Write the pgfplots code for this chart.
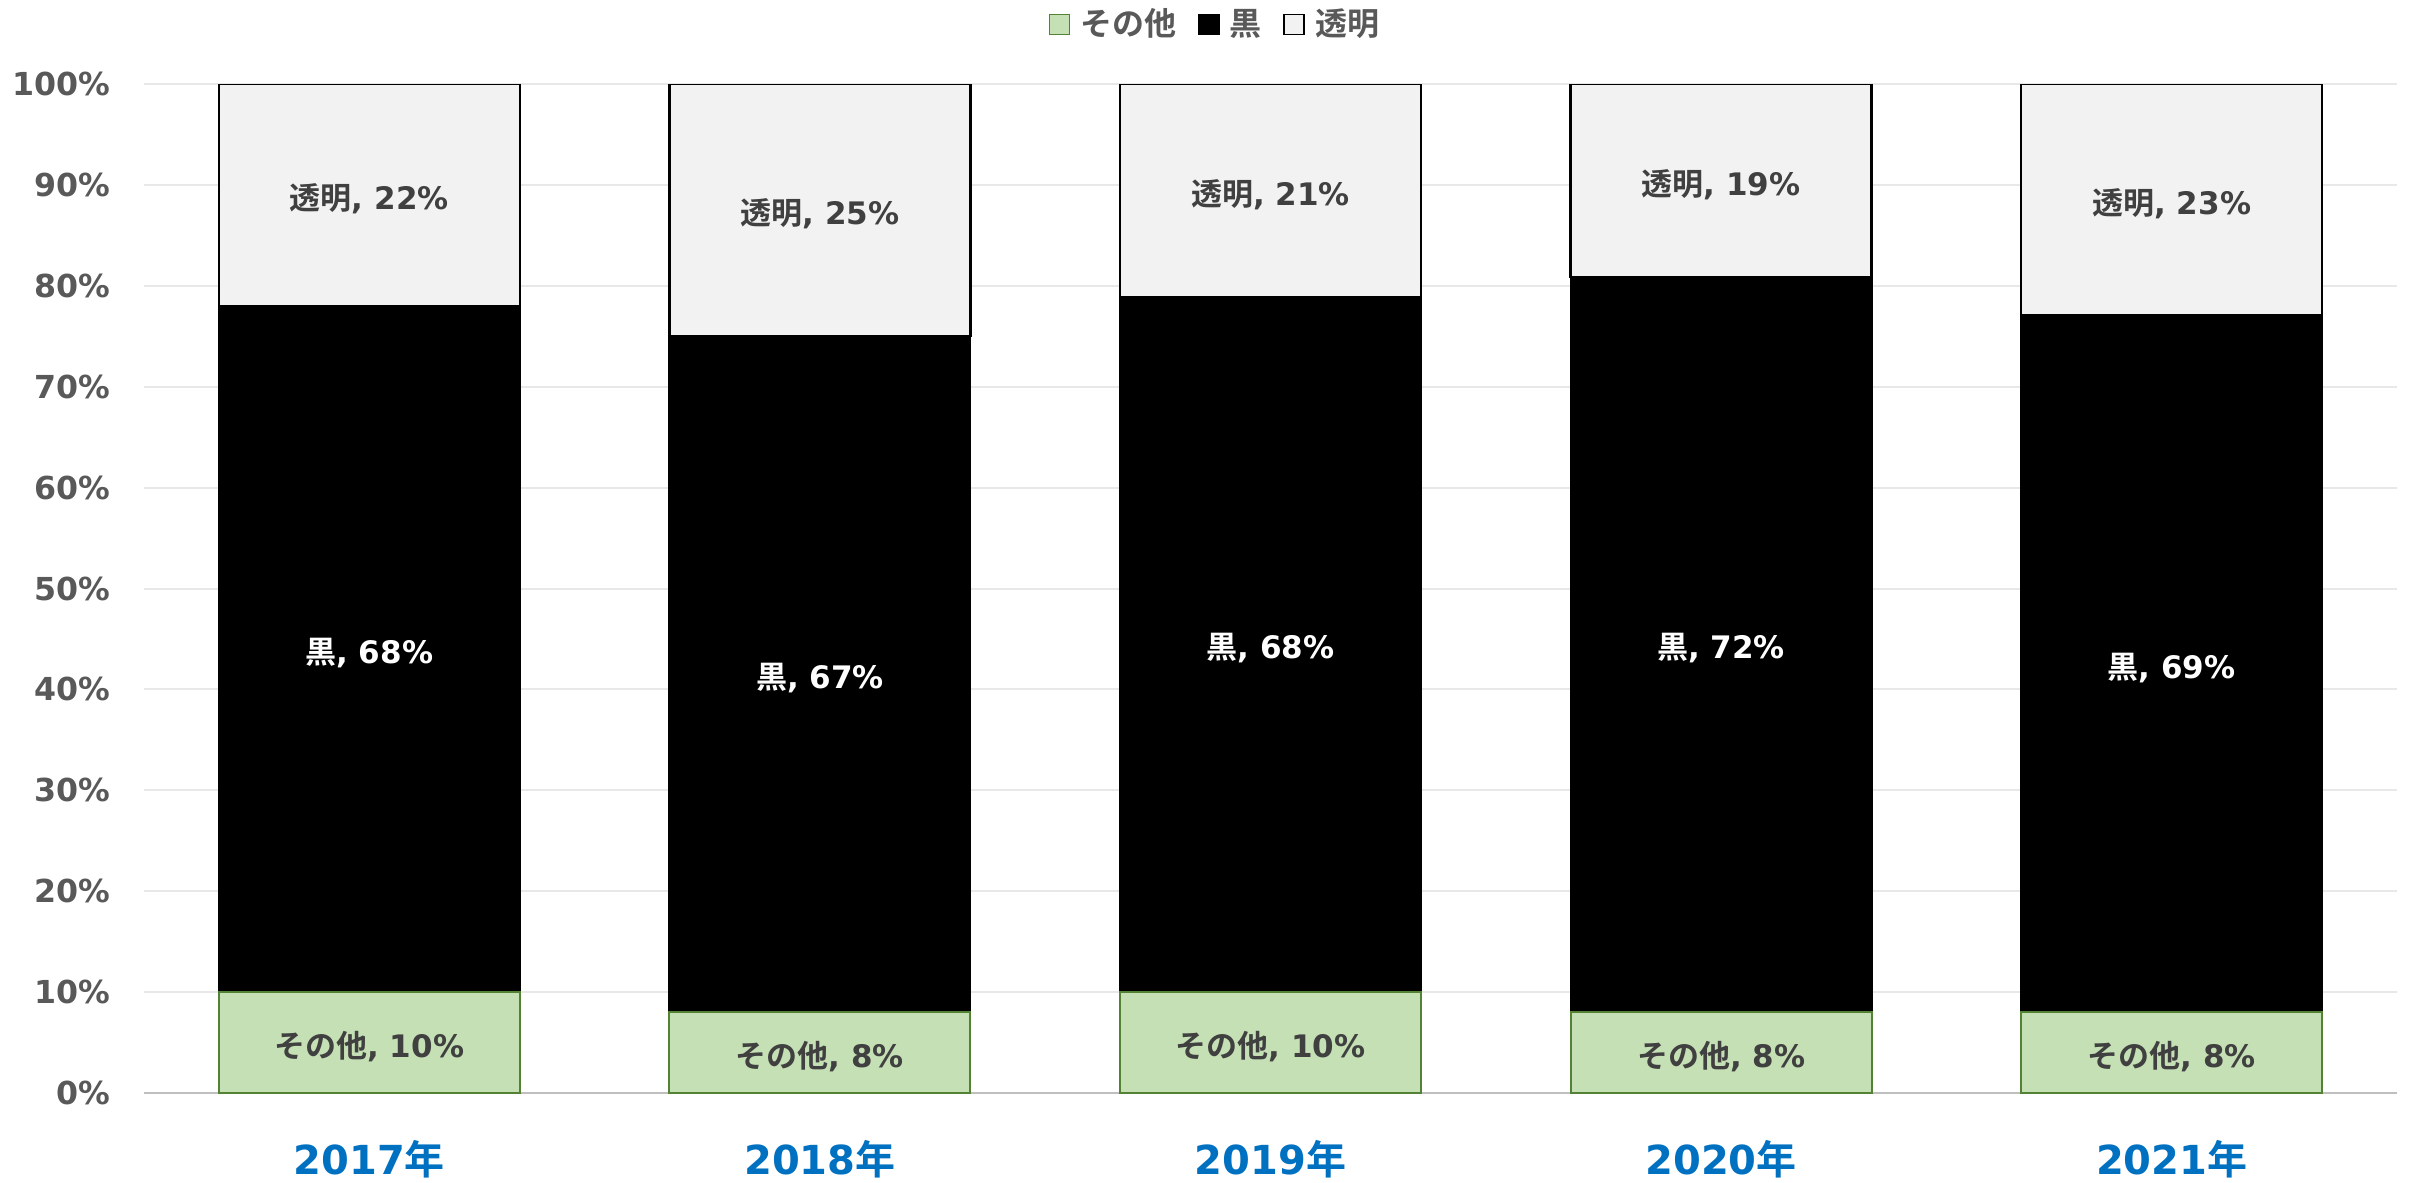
\documentclass[border=0pt]{standalone}
\usepackage{fontspec}
\setmainfont{DejaVu Sans}
\newfontfamily\jp{Noto Sans CJK JP}[BoldFont={Noto Sans CJK JP Bold}]
\usepackage{pgfplots}
\usepackage{pgfplotstable}
\pgfplotsset{compat=1.18}
\definecolor{cgreen}{HTML}{C5E0B4}
\definecolor{cgreenedge}{HTML}{548235}
\definecolor{cclear}{HTML}{F2F2F2}
\definecolor{gridgray}{HTML}{E8E8E8}
\definecolor{axisgray}{HTML}{BFBFBF}
\definecolor{tickgray}{HTML}{595959}
\definecolor{labgray}{HTML}{404040}
\definecolor{catblue}{HTML}{0070C0}

\pgfplotstableread{
x other black clear
0 10 68 22
1 8 67 25
2 10 68.9 21.1
3 8 72.9 19.1
4 8 69.1 22.9
}\datatable

\pgfplotstableread{
x oth blk clr othl blkl clrl
0 5 44 89 10 68 22
1 4 41.5 87.5 8 67 25
2 5 44.45 89.45 10 68 21
3 4 44.45 90.45 8 72 19
4 4 42.55 88.55 8 69 23
}\labtable

\begin{document}
\begin{tikzpicture}
\path[use as bounding box] (-43.2pt,-26.7pt) rectangle (679.8pt,327.9pt);
\begin{axis}[
  at={(0,0)}, anchor=south west,
  width=675.9pt, height=302.7pt, scale only axis,
  ybar stacked, bar width=0.668,
  xmin=-0.5, xmax=4.5, ymin=0, ymax=100,
  xtick={0,1,2,3,4},
  xticklabels={2017{\jp 年},2018{\jp 年},2019{\jp 年},2020{\jp 年},2021{\jp 年}},
  ytick={0,10,...,100},
  yticklabel={\pgfmathprintnumber{\tick}\%},
  /pgf/number format/assume math mode=true,
  ymajorgrids, grid style={color=gridgray, line width=0.6pt},
  axis line style={draw=none},
  major tick length=0pt, tick style={draw=none},
  yticklabel style={anchor=east, inner sep=0pt, xshift=-10pt, font=\bfseries\fontsize{9.5}{11}\selectfont, color=tickgray},
  xticklabel style={anchor=center, inner sep=0pt, yshift=-19.8pt, font=\bfseries\fontsize{12}{14}\selectfont, color=catblue},
  legend style={at={(0.476,1.059)}, anchor=center, draw=none, fill=none, legend columns=3,
     font=\jp\bfseries\fontsize{9.6}{11}\selectfont, text=tickgray,
     /tikz/every odd column/.append style={column sep=1.5pt},
     /tikz/every even column/.append style={column sep=5pt},
     nodes={inner sep=1.5pt}},
  legend image code/.code={\draw[#1, line width=0.5pt] (0pt,-3pt) rectangle (6pt,3pt);},
]
\addplot[fill=cgreen, draw=cgreenedge, line width=0.6pt] table[x=x, y=other] {\datatable};
\addlegendentry{その他}
\addplot[fill=black, draw=black, line width=0.6pt] table[x=x, y=black] {\datatable};
\addlegendentry{黒}
\addplot[fill=cclear, draw=black, line width=0.7pt] table[x=x, y=clear] {\datatable};
\addlegendentry{透明}
\draw[color=axisgray, line width=0.7pt] (rel axis cs:0,0) -- (rel axis cs:1,0);
\end{axis}
\begin{axis}[
  at={(0,0)}, anchor=south west,
  width=675.9pt, height=302.7pt, scale only axis,
  xmin=-0.5, xmax=4.5, ymin=0, ymax=100,
  hide axis, clip=false,
  nodes near coords align={center},
  every node near coord/.append style={font=\bfseries\fontsize{9.3}{11}\selectfont, anchor=center, yshift=-1.2pt},
]
\addplot[draw=none, mark=none, point meta=explicit symbolic,
  nodes near coords={{\jp その他}, \pgfplotspointmeta\%},
  every node near coord/.append style={color=labgray}]
  table[x=x, y=oth, meta=othl] {\labtable};
\addplot[draw=none, mark=none, point meta=explicit symbolic,
  nodes near coords={{\jp 黒}, \pgfplotspointmeta\%},
  every node near coord/.append style={color=white}]
  table[x=x, y=blk, meta=blkl] {\labtable};
\addplot[draw=none, mark=none, point meta=explicit symbolic,
  nodes near coords={{\jp 透明}, \pgfplotspointmeta\%},
  every node near coord/.append style={color=labgray}]
  table[x=x, y=clr, meta=clrl] {\labtable};
\end{axis}
\end{tikzpicture}
\end{document}
